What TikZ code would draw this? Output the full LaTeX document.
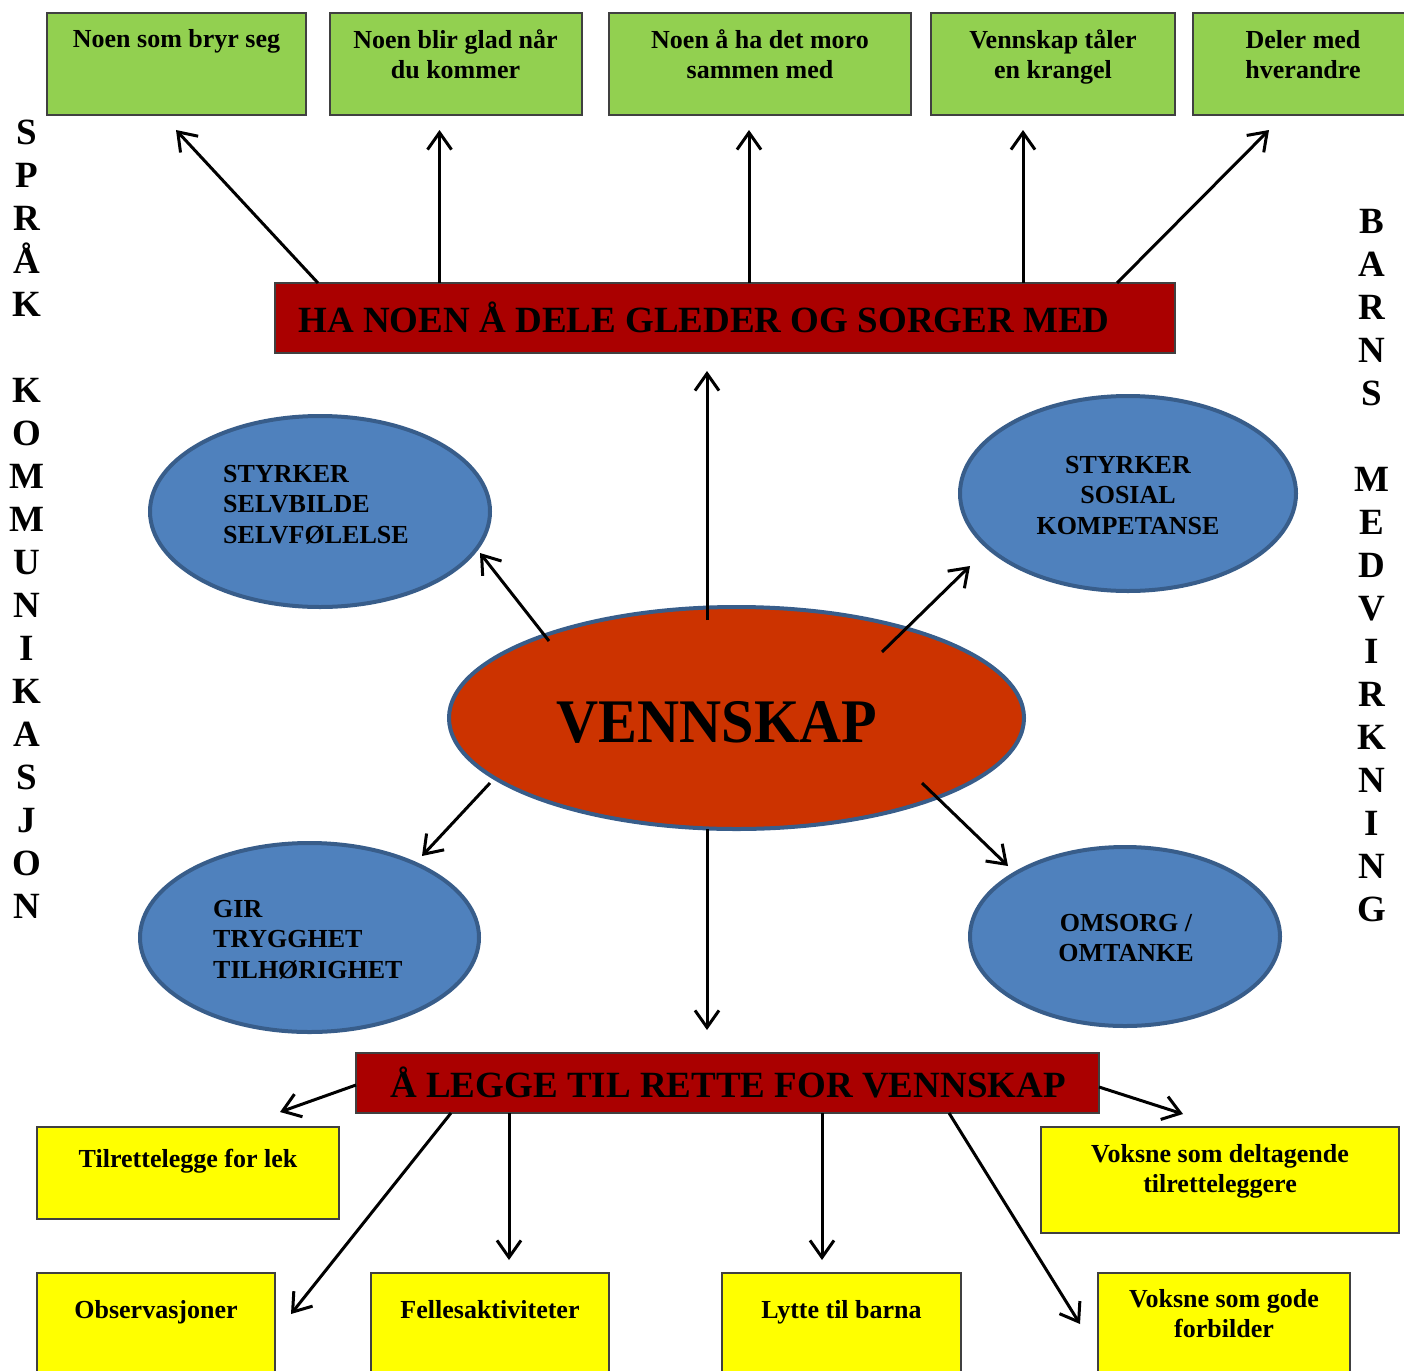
\documentclass[tikz,border=0pt]{standalone}
\usepackage{fontspec}
\usepackage{graphicx}
\setmainfont{Liberation Serif}
\usetikzlibrary{arrows.meta,shapes.geometric,calc}
\definecolor{boxgreen}{HTML}{92D050}
\definecolor{boxyellow}{HTML}{FFFF00}
\definecolor{boxred}{HTML}{AA0000}
\definecolor{ovalblue}{HTML}{4F81BD}
\definecolor{ovalline}{HTML}{385D8A}
\definecolor{coreorange}{HTML}{CC3300}
\definecolor{edgegray}{HTML}{404040}
\newcommand{\tstr}[1]{\rule{0pt}{#1}}
\begin{document}
\begin{tikzpicture}[x=1pt,y=-1pt,
  rbox/.style={draw=edgegray, line width=2pt, rectangle, inner sep=0pt, outer sep=0pt, anchor=north west},
  oval/.style={ellipse, draw=ovalline, line width=4pt, fill=ovalblue, inner sep=0pt, outer sep=0pt},
  txt/.style={font=\bfseries\fontsize{26}{30}\selectfont, inner sep=0pt, align=center},
  ovtxt/.style={font=\bfseries\fontsize{26}{30.5}\selectfont, inner sep=0pt},
  titletxt/.style={font=\bfseries\fontsize{37}{40}\selectfont, inner sep=0pt},
  sidetxt/.style={font=\bfseries\fontsize{37}{43}\selectfont, inner sep=0pt, align=center, anchor=north},
  arr/.style={line width=3pt, -{Straight Barb[length=17pt,width=24pt]}}]
\useasboundingbox (0,0) rectangle (1404,1370);

% green boxes
\node[rbox, fill=boxgreen, minimum width=259pt, minimum height=102pt] (g1) at (47,13) {};
\node[rbox, fill=boxgreen, minimum width=252pt, minimum height=102pt] (g2) at (329.5,13) {};
\node[rbox, fill=boxgreen, minimum width=302pt, minimum height=102pt] (g3) at (609,13) {};
\node[rbox, fill=boxgreen, minimum width=244pt, minimum height=102pt] (g4) at (931,13) {};
\node[rbox, fill=boxgreen, minimum width=230pt, minimum height=102pt] (g5) at (1193,13) {};
\node[txt, anchor=base] (g1t) at (176.5,48) {Noen som bryr seg};
\node[txt, anchor=north] (g2t) at (455.5,28) {\tstr{20pt}Noen blir glad når\\du kommer};
\node[txt, anchor=north] (g3t) at (760,28) {\tstr{20pt}Noen å ha det moro\\sammen med};
\node[txt, anchor=north] (g4t) at (1053,28) {\tstr{20pt}Vennskap tåler\\en krangel};
\node[txt, anchor=north] (g5t) at (1303,28) {\tstr{20pt}Deler med\\hverandre};

% top red box
\node[rbox, fill=boxred, minimum width=900pt, minimum height=70pt] (hb) at (275,283) {};
\node[titletxt, anchor=base] (hbt) at (704,332) {HA NOEN Å DELE GLEDER OG SORGER MED};

% side texts
\node[sidetxt] (lside) at (27,114) {\tstr{30pt}S\\P\\R\\Å\\K\\\mbox{}\\K\\O\\M\\M\\U\\N\\I\\K\\A\\S\\J\\O\\N};
\node[sidetxt] (rside) at (1372,203) {\tstr{30pt}B\\A\\R\\N\\S\\\mbox{}\\M\\E\\D\\V\\I\\R\\K\\N\\I\\N\\G};

% ellipses
\node[oval, minimum width=340pt, minimum height=191pt] (e1) at (320,511.5) {};
\node[oval, minimum width=336pt, minimum height=195pt] (e2) at (1128,493.5) {};
\node[oval, minimum width=339pt, minimum height=189pt] (e3) at (309.5,937.5) {};
\node[oval, minimum width=310pt, minimum height=179pt] (e4) at (1125,936.5) {};
\node[ellipse, draw=ovalline, line width=4pt, fill=coreorange, inner sep=0pt, outer sep=0pt,
      minimum width=575pt, minimum height=222pt] (vk) at (736.5,718) {};

\node[ovtxt, align=left, anchor=north west] (e1t) at (223,462) {\tstr{20pt}STYRKER\\SELVBILDE\\SELVFØLELSE};
\node[ovtxt, align=center, anchor=north] (e2t) at (1128,453) {\tstr{20pt}STYRKER\\SOSIAL\\KOMPETANSE};
\node[ovtxt, align=left, anchor=north west] (e3t) at (213,897) {\tstr{20pt}GIR\\TRYGGHET\\TILHØRIGHET};
\node[ovtxt, align=center, anchor=north] (e4t) at (1126,911) {\tstr{20pt}OMSORG /\\OMTANKE};
\node[font=\bfseries\fontsize{62}{66}\selectfont, inner sep=0pt, anchor=base] (vkt) at (717,742) {\scalebox{0.94}[1]{VENNSKAP}};

% bottom red box
\node[rbox, fill=boxred, minimum width=743pt, minimum height=60pt] (bb) at (356,1053) {};
\node[titletxt, anchor=base] (bbt) at (728,1097) {Å LEGGE TIL RETTE FOR VENNSKAP};

% yellow boxes
\node[rbox, fill=boxyellow, minimum width=302pt, minimum height=92pt] (y1) at (37,1127) {};
\node[rbox, fill=boxyellow, minimum width=358pt, minimum height=106pt] (y2) at (1041,1127) {};
\node[rbox, fill=boxyellow, minimum width=238pt, minimum height=120pt] (y3) at (37,1273) {};
\node[rbox, fill=boxyellow, minimum width=238.5pt, minimum height=120pt] (y4) at (370.5,1273) {};
\node[rbox, fill=boxyellow, minimum width=239pt, minimum height=120pt] (y5) at (722,1273) {};
\node[rbox, fill=boxyellow, minimum width=252pt, minimum height=120pt] (y6) at (1098,1273) {};
\node[txt, anchor=base] (y1t) at (188,1167) {Tilrettelegge for lek};
\node[txt, anchor=north] (y2t) at (1220,1142) {\tstr{20pt}Voksne som deltagende\\tilretteleggere};
\node[txt, anchor=base] (y3t) at (156,1318) {Observasjoner};
\node[txt, anchor=base] (y4t) at (490,1318) {Fellesaktiviteter};
\node[txt, anchor=base] (y5t) at (841.5,1318) {Lytte til barna};
\node[txt, anchor=north] (y6t) at (1224,1287) {\tstr{20pt}Voksne som gode\\forbilder};

% free arrow ends
\coordinate (t1) at (176,130);
\coordinate (t2) at (439.5,130);
\coordinate (t3) at (749,130);
\coordinate (t4) at (1023,130);
\coordinate (t5) at (1269,130);
\coordinate (vu) at (707,371);
\coordinate (vnw) at (480,553);
\coordinate (vne) at (970,566);
\coordinate (vsw) at (422,856);
\coordinate (vse) at (1008,866);
\coordinate (vd) at (707,1030);
\coordinate (b1) at (280,1112);
\coordinate (b2) at (291,1314);
\coordinate (b3) at (509,1260);
\coordinate (b4) at (822,1260);
\coordinate (b5) at (1080,1324);
\coordinate (b6) at (1183,1114);

% arrows from top red box
\draw[arr] ($(hb.north west)+(43,0)$) -- (t1);
\draw[arr] ($(hb.north west)+(164.5,0)$) -- (t2);
\draw[arr] ($(hb.north west)+(474,0)$) -- (t3);
\draw[arr] ($(hb.north west)+(748,0)$) -- (t4);
\draw[arr] ($(hb.north west)+(842,0)$) -- (t5);

% arrows from VENNSKAP
\draw[arr] ($(vk.center)+(-29.5,-98)$) -- (vu);
\draw[arr] ($(vk.center)+(-187.5,-77)$) -- (vnw);
\draw[arr] ($(vk.center)+(145.5,-66)$) -- (vne);
\draw[arr] ($(vk.center)+(-246.5,65)$) -- (vsw);
\draw[arr] ($(vk.center)+(185.5,65)$) -- (vse);
\draw[arr] ($(vk.center)+(-29.5,111)$) -- (vd);

% arrows from bottom red box
\draw[arr] ($(bb.north west)+(0,32)$) -- (b1);
\draw[arr] ($(bb.north west)+(95,60)$) -- (b2);
\draw[arr] ($(bb.north west)+(153,60)$) -- (b3);
\draw[arr] ($(bb.north west)+(466,60)$) -- (b4);
\draw[arr] ($(bb.north west)+(593,60)$) -- (b5);
\draw[arr] ($(bb.north west)+(743,34)$) -- (b6);
\end{tikzpicture}
\end{document}
